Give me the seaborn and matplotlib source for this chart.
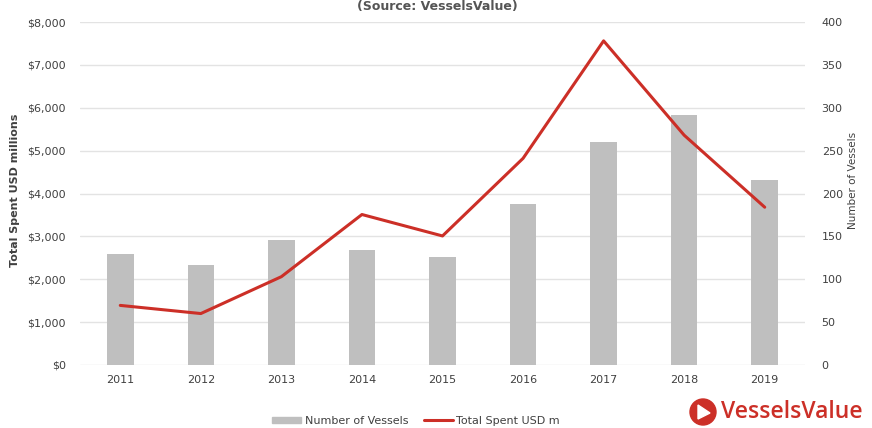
import matplotlib
matplotlib.use("Agg")
import matplotlib.pyplot as plt
import matplotlib.patches as mpatches
from matplotlib.lines import Line2D
from matplotlib.ticker import FuncFormatter
import seaborn as sns
import pandas as pd

# Data
years = ["2011", "2012", "2013", "2014", "2015", "2016", "2017", "2018", "2019"]
vessels = [130, 117, 146, 134, 126, 188, 260, 291, 216]
spent_usd_m = [1390, 1200, 2060, 3510, 3010, 4820, 7560, 5360, 3680]

df = pd.DataFrame({"Year": years, "Vessels": vessels, "Spent": spent_usd_m})

sns.set_theme(style="white")
plt.rcParams["font.family"] = ["DejaVu Sans"]

BAR = "#bfbfbf"
RED = "#cc2f27"
TXT = "#404040"
GRID = "#e3e3e3"

fig = plt.figure(figsize=(8.72, 4.28), dpi=100)
ax = fig.add_axes([80 / 872, 1 - 365 / 428, 725 / 872, 343 / 428])
ax2 = ax.twinx()

# Bars: number of vessels on the right axis
sns.barplot(data=df, x="Year", y="Vessels", ax=ax2, color=BAR, width=0.33,
            saturation=1, edgecolor="none")
# Line: total spend on the left axis
sns.lineplot(data=df, x="Year", y="Spent", ax=ax, color=RED, linewidth=2.2,
             sort=False)

ax.set_zorder(ax2.get_zorder() + 1)
ax.patch.set_visible(False)

ax.set_ylim(0, 8000)
ax2.set_ylim(0, 400)
ax.set_xlim(-0.5, 8.5)
ax.set_yticks(range(0, 8001, 1000))
ax2.set_yticks(range(0, 401, 50))
ax.yaxis.set_major_formatter(FuncFormatter(lambda v, p: f"${v:,.0f}"))

for a in (ax, ax2):
    for s in a.spines.values():
        s.set_visible(False)
    a.set_xlabel("")
    a.set_ylabel("")
    a.tick_params(length=0, colors=TXT, labelsize=8)

ax2.yaxis.grid(True, color=GRID, linewidth=1)
ax2.set_axisbelow(True)
ax.tick_params(axis="y", pad=10)
ax2.tick_params(axis="y", pad=12)
ax.tick_params(axis="x", pad=7)

fig.text(15 / 872, 1 - 190 / 428, "Total Spent USD millions", rotation=90,
         ha="center", va="center", fontsize=8, fontweight="bold", color=TXT)
fig.text(853 / 872, 1 - 180 / 428, "Number of Vessels", rotation=90,
         ha="center", va="center", fontsize=7.5, color=TXT)

fig.text(437 / 872, 1.0, "(Source: VesselsValue)", ha="center", va="top",
         fontsize=9, fontweight="bold", color="#555555")

# Legend
handles = [mpatches.Patch(color=BAR, label="Number of Vessels"),
           Line2D([0], [0], color=RED, linewidth=2.2, label="Total Spent USD m")]
fig.legend(handles=handles, loc="center", bbox_to_anchor=(416 / 872, 1 - 421 / 428),
           ncol=2, frameon=False, fontsize=8, handlelength=2.6, handleheight=0.5,
           columnspacing=1.4, handletextpad=0.3, labelcolor=TXT)

# Brand mark
cx, cy, r = 703 / 872, 1 - 412 / 428, 13
circ = mpatches.Ellipse((cx, cy), 2 * r / 872, 2 * r / 428, transform=fig.transFigure,
                        color=RED, zorder=5)
fig.patches.append(circ)
tri = mpatches.Polygon([(cx - 5 / 872, cy + 7 / 428), (cx - 5 / 872, cy - 7 / 428),
                        (cx + 7 / 872, cy - 1 / 428)], closed=True,
                       transform=fig.transFigure, color="white", zorder=6)
fig.patches.append(tri)
fig.text(721 / 872, cy, "VesselsValue", ha="left", va="center", fontsize=16.5,
         color=RED, family="Open Sans", fontweight="semibold")

fig.savefig("out.png", dpi=100)
